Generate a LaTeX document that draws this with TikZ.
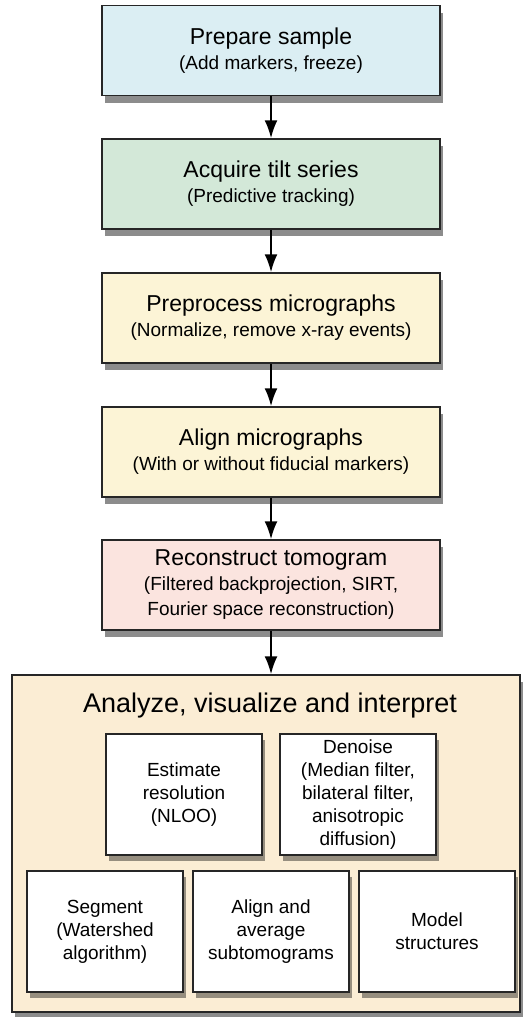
\documentclass[tikz,border=0pt]{standalone}
\usepackage{fontspec}
\setmainfont{Liberation Sans}
\usetikzlibrary{shadows}
\usetikzlibrary{arrows.meta}
\definecolor{sampleblue}{RGB}{219,238,243}
\definecolor{tiltgreen}{RGB}{211,232,216}
\definecolor{micrographyellow}{RGB}{252,244,214}
\definecolor{tomogrampink}{RGB}{251,228,223}
\definecolor{analyzetan}{RGB}{251,237,212}

\begin{document}
\begin{tikzpicture}[x=1pt,y=-1pt]
\tikzstyle{step_box}=[rectangle, draw=black!85, line width=1.5pt, minimum width=338pt, minimum height=90pt, inner sep=0pt, align=center, font=\fontsize{23}{25}\selectfont, drop shadow={shadow xshift=3pt, shadow yshift=-7pt, opacity=.45, fill=black}];
\tikzstyle{task_box}=[rectangle, draw=black!85, line width=1.5pt, fill=white, minimum width=156pt, minimum height=121pt, inner sep=0pt, align=center, font=\fontsize{19}{23}\selectfont, drop shadow={shadow xshift=3pt, shadow yshift=-6pt, opacity=.4, fill=black}];
\tikzstyle{step_arrow}=[line width=2pt, -{Latex[length=18pt,width=13pt]}];
\useasboundingbox (0,0) rectangle (523,1017);
\coordinate (prepare_pos) at (271,50.5);
\coordinate (acquire_pos) at (271,184);
\coordinate (preprocess_pos) at (271,318);
\coordinate (align_pos) at (271,452);
\coordinate (reconstruct_pos) at (271,585);
\coordinate (analyze_pos) at (266,843.5);
\coordinate (analyze_title_pos) at (270,712);
\coordinate (resolution_pos) at (184,794.5);
\coordinate (denoise_pos) at (358,794.5);
\coordinate (segment_pos) at (105,931.5);
\coordinate (average_pos) at (271,931.5);
\coordinate (model_pos) at (437,931.5);
\node (prepare_sample) at (prepare_pos) [style=step_box, fill=sampleblue] {Prepare sample\\{\fontsize{19}{25}\selectfont (Add markers, freeze)}};
\node (acquire_tilt) at (acquire_pos) [style=step_box, fill=tiltgreen] {Acquire tilt series\\{\fontsize{19}{25}\selectfont (Predictive tracking)}};
\node (preprocess) at (preprocess_pos) [style=step_box, fill=micrographyellow] {Preprocess micrographs\\{\fontsize{19}{25}\selectfont (Normalize, remove x-ray events)}};
\node (align_micrographs) at (align_pos) [style=step_box, fill=micrographyellow] {Align micrographs\\{\fontsize{19}{25}\selectfont (With or without fiducial markers)}};
\node (reconstruct) at (reconstruct_pos) [style=step_box, fill=tomogrampink] {Reconstruct tomogram\\{\fontsize{19}{25}\selectfont (Filtered backprojection, SIRT,}\\{\fontsize{19}{25}\selectfont Fourier space reconstruction)}};
\node (analyze) at (analyze_pos) [style=step_box, fill=analyzetan, minimum width=508pt, minimum height=337pt] {};
\node (analyze_label) at (analyze_title_pos) [anchor=base, font=\fontsize{27}{30}\selectfont] {Analyze, visualize and interpret};
\node (resolution) at (resolution_pos) [style=task_box] {Estimate\\resolution\\(NLOO)};
\node (denoise) at (denoise_pos) [style=task_box] {Denoise\\(Median filter,\\bilateral filter,\\anisotropic\\diffusion)};
\node (segment) at (segment_pos) [style=task_box] {Segment\\(Watershed\\algorithm)};
\node (average) at (average_pos) [style=task_box] {Align and\\average\\subtomograms};
\node (model) at (model_pos) [style=task_box] {Model\\structures};
\path (prepare_sample) -- (acquire_tilt) [draw, step_arrow];
\path (acquire_tilt) -- (preprocess) [draw, step_arrow];
\path (preprocess) -- (align_micrographs) [draw, step_arrow];
\path (align_micrographs) -- (reconstruct) [draw, step_arrow];
\path (reconstruct.south) -- (reconstruct.south |- analyze.north) [draw, step_arrow];
\end{tikzpicture}
\end{document}
